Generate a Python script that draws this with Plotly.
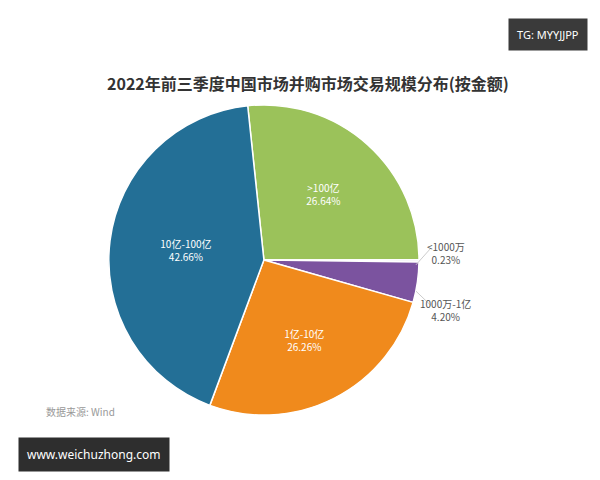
import plotly.graph_objects as go

labels = [">100亿", "<1000万", "1000万-1亿", "1亿-10亿", "10亿-100亿"]
values = [26.64, 0.23, 4.20, 26.26, 42.66]
texts = [">100亿<br>26.64%", "", "", "1亿-10亿<br>26.26%", "10亿-100亿<br>42.66%"]
colors = ["#9bc25a", "#d9dde3", "#7b539f", "#f08a1c", "#236f96"]

fig = go.Figure(go.Pie(
    labels=labels, values=values, text=texts, textinfo="text",
    textposition="inside", insidetextorientation="horizontal",
    textfont=dict(color="white", size=10, family="Noto Sans CJK SC"),
    marker=dict(colors=colors, line=dict(color="white", width=1.5)),
    sort=False, direction="clockwise", rotation=-6,
    domain=dict(x=[0.168, 0.685], y=[0.15, 0.8]),
    showlegend=False, hoverinfo="label+value"))

ann = [
    dict(text="<b>2022年前三季度中国市场并购市场交易规模分布(按金额)</b>", x=0.5, y=1 - 75/480, xref="paper", yref="paper",
         xanchor="center", yanchor="middle",
         showarrow=False, font=dict(size=16, color="#333", family="Noto Sans CJK SC")),
    dict(text="<1000万<br>0.23%", x=0.765, y=0.49, xref="paper", yref="paper", showarrow=False,
         font=dict(size=10, color="#555", family="Noto Sans CJK SC")),
    dict(text="1000万-1亿<br>4.20%", x=0.775, y=0.37, xref="paper", yref="paper", showarrow=False,
         font=dict(size=10, color="#555", family="Noto Sans CJK SC")),
    dict(text="数据来源: Wind", x=0.06, y=0.14, xref="paper", yref="paper", showarrow=False, xanchor="left",
         font=dict(size=10, color="#999", family="Noto Sans CJK SC")),
    dict(text="TG: MYYJJPP", x=0.967, y=0.98, xref="paper", yref="paper", showarrow=False,
         xanchor="right", yanchor="top",
         bgcolor="#3a3a3a", borderpad=8, font=dict(size=11, color="white", family="Noto Sans")),
    dict(text="www.weichuzhong.com", x=0.017, y=0.07, xref="paper", yref="paper", showarrow=False,
         xanchor="left", yanchor="middle",
         bgcolor="#2e2e2e", borderpad=8, font=dict(size=12, color="white", family="Noto Sans")),
]
shapes = [
    dict(type="line", xref="paper", yref="paper", x0=0.68, y0=0.465, x1=0.705, y1=0.5, line=dict(color="#ccc", width=1)),
    dict(type="line", xref="paper", yref="paper", x0=0.68, y0=0.41, x1=0.705, y1=0.38, line=dict(color="#ccc", width=1)),
]
fig.update_layout(width=600, height=480, margin=dict(l=0, r=0, t=0, b=0),
                  paper_bgcolor="white", annotations=ann, shapes=shapes)
fig.write_html("out.html")
